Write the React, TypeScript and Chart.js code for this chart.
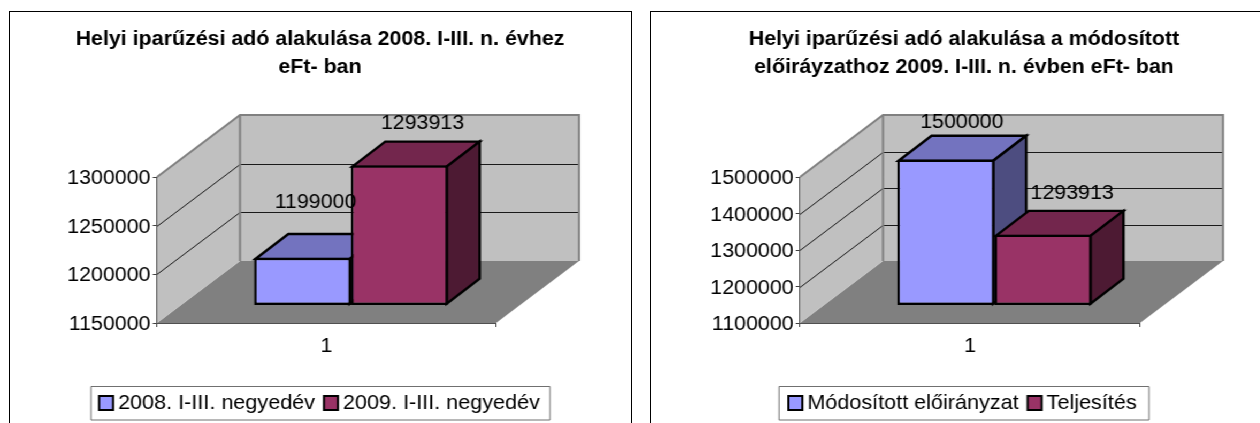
import React, { useEffect, useRef } from "react";
import { Chart, registerables } from "chart.js";

Chart.register(...registerables);

const categories = ["1"];
const leftSeriesNames = ["2008. I-III. negyedév", "2009. I-III. negyedév"];
const leftValues = [1199000, 1293913];
const leftTitle = ["Helyi iparűzési adó alakulása 2008. I-III. n. évhez", "eFt- ban"];
const rightSeriesNames = ["Módosított előirányzat", "Teljesítés"];
const rightValues = [1500000, 1293913];
const rightTitle = ["Helyi iparűzési adó alakulása a módosított", "előiráyzathoz 2009. I-III. n. évben eFt- ban"];

const FACE = ["#9999FF", "#993366"];
const TOP = ["#7373BF", "#73264D"];
const SIDE = ["#4D4D80", "#4D1A33"];

// The reference is a picture stretched sideways: draw narrower, then stretch the canvas.
const SX = 1.07;
const W = Math.round(630 / SX);
const H = 423;
const AXIS_FONT = 20;
const LEGEND_FONT = 20.2;
const TITLE_FONT = 20;
const BAR_LINE = 2.4;
const FAMILY = '"Liberation Sans", Arial, sans-serif';

const L = (v: number) => v / SX;

function makeChart(canvas: HTMLCanvasElement, p: any) {
  const plugin = {
    id: "pseudo3d",
    afterLayout(chart: any) {
      const cx = L(p.titleCx);
      chart.titleBlock.left = cx - W / 2;
      chart.titleBlock.right = cx + W / 2;
      const lx = L(p.legendCx);
      chart.legend.left = lx - W / 2;
      chart.legend.right = lx + W / 2;
      chart.legend.top = 405 - 16 - 12;
      chart.legend.adjustHitBoxes();
    },
    beforeDraw(chart: any) {
      const { ctx, chartArea: a } = chart;
      const dx = L(83);
      const dy = 62;
      ctx.save();
      // legend frame
      ctx.fillStyle = "#fff";
      ctx.strokeStyle = "#707070";
      ctx.lineWidth = 1;
      ctx.beginPath();
      ctx.rect(L(p.legendBox[0]), 386.5, L(p.legendBox[1] - p.legendBox[0]), 33.5);
      ctx.fill();
      ctx.stroke();
      // floor
      ctx.fillStyle = "#808080";
      ctx.beginPath();
      ctx.moveTo(a.left, a.bottom);
      ctx.lineTo(a.left + dx, a.bottom - dy);
      ctx.lineTo(a.right + dx, a.bottom - dy);
      ctx.lineTo(a.right, a.bottom);
      ctx.closePath();
      ctx.fill();
      // walls
      ctx.fillStyle = "#C0C0C0";
      ctx.beginPath();
      ctx.moveTo(a.left, a.top);
      ctx.lineTo(a.left + dx, a.top - dy);
      ctx.lineTo(a.right + dx, a.top - dy);
      ctx.lineTo(a.right + dx, a.bottom - dy);
      ctx.lineTo(a.left + dx, a.bottom - dy);
      ctx.lineTo(a.left, a.bottom);
      ctx.closePath();
      ctx.fill();
      // grid on the walls
      const y = chart.scales.y;
      ctx.strokeStyle = "#1a1a1a";
      ctx.lineWidth = 1;
      y.ticks.forEach((t: any) => {
        if (t.value === y.min || t.value === y.max) return;
        const py = Math.round(y.getPixelForValue(t.value)) + 0.5;
        ctx.beginPath();
        ctx.moveTo(a.left, py);
        ctx.lineTo(a.left + dx, py - dy);
        ctx.lineTo(a.right + dx, py - dy);
        ctx.stroke();
      });
      // wall edges
      ctx.strokeStyle = "#808080";
      ctx.lineWidth = 2;
      ctx.beginPath();
      ctx.moveTo(a.left, a.top);
      ctx.lineTo(a.left + dx, a.top - dy);
      ctx.lineTo(a.right + dx, a.top - dy);
      ctx.lineTo(a.right + dx, a.bottom - dy);
      ctx.moveTo(a.left + dx, a.top - dy);
      ctx.lineTo(a.left + dx, a.bottom - dy);
      ctx.stroke();
      ctx.restore();
    },
    beforeDatasetsDraw(chart: any) {
      const { ctx } = chart;
      const fx = L(24.5);
      const fy = 17.5;
      const bx = L(33);
      const by = 25;
      const inset = BAR_LINE / 2;
      ctx.save();
      ctx.translate(fx, -fy);
      ctx.strokeStyle = "#000";
      ctx.lineWidth = BAR_LINE;
      ctx.lineJoin = "miter";
      chart.data.datasets.forEach((_: any, i: number) => {
        const b = chart.getDatasetMeta(i).data[0];
        const x0 = b.x - b.width / 2 + inset;
        const x1 = b.x + b.width / 2 - inset;
        const t = b.y + inset;
        const base = b.base - inset;
        ctx.fillStyle = TOP[i];
        ctx.beginPath();
        ctx.moveTo(x0, t);
        ctx.lineTo(x0 + bx, t - by);
        ctx.lineTo(x1 + bx, t - by);
        ctx.lineTo(x1, t);
        ctx.closePath();
        ctx.fill();
        ctx.stroke();
        ctx.fillStyle = SIDE[i];
        ctx.beginPath();
        ctx.moveTo(x1, t);
        ctx.lineTo(x1 + bx, t - by);
        ctx.lineTo(x1 + bx, base - by);
        ctx.lineTo(x1, base);
        ctx.closePath();
        ctx.fill();
        ctx.stroke();
      });
    },
    afterDatasetsDraw(chart: any) {
      const { ctx } = chart;
      ctx.restore();
      ctx.save();
      ctx.fillStyle = "#000";
      ctx.font = `${AXIS_FONT}px ${FAMILY}`;
      ctx.textAlign = "center";
      ctx.textBaseline = "middle";
      chart.data.datasets.forEach((ds: any, i: number) => {
        const b = chart.getDatasetMeta(i).data[0];
        const [ox, oy] = p.labelOffsets[i];
        ctx.fillText(String(ds.data[0]), b.x + L(24.5 + ox), b.y - 18 + oy + 1.5);
      });
      ctx.restore();
    },
    afterDraw(chart: any) {
      // legend swatches sit closer to their text than Chart.js would put them
      const { ctx, legend } = chart;
      ctx.save();
      ctx.strokeStyle = "#000";
      ctx.lineWidth = 2;
      legend.legendHitBoxes.forEach((h: any, i: number) => {
        const textStart = h.left + LEGEND_FONT / 2;
        const size = L(14);
        const x = textStart - L(5) - size;
        ctx.fillStyle = FACE[i];
        ctx.beginPath();
        ctx.rect(x, 396, size, 14);
        ctx.fill();
        ctx.stroke();
      });
      ctx.restore();
    },
  };

  return new Chart(canvas, {
    type: "bar",
    data: {
      labels: categories,
      datasets: p.names.map((n: string, i: number) => ({
        label: n,
        data: [p.values[i]],
        base: p.min,
        backgroundColor: FACE[i],
        borderColor: "#000",
        borderWidth: BAR_LINE,
        borderSkipped: false,
        categoryPercentage: 0.572,
        barPercentage: 1,
      })),
    },
    options: {
      animation: false,
      responsive: false,
      maintainAspectRatio: false,
      layout: { padding: { left: 0, right: W - L(p.plotRight), top: 0, bottom: 0 } },
      scales: {
        x: {
          grid: { drawOnChartArea: false, drawTicks: true, tickLength: 4, color: "#404040" },
          border: { color: "#505050", width: 1 },
          ticks: {
            color: "#000",
            padding: 7,
            font: { family: FAMILY, size: AXIS_FONT },
            maxRotation: 0,
          },
          afterFit(s: any) {
            s.height = H - 323 - s.chart.legend.height;
          },
        },
        y: {
          min: p.min,
          max: p.max,
          grid: { drawOnChartArea: false, drawTicks: true, tickLength: 4, color: "#404040" },
          border: { color: "#505050", width: 1 },
          ticks: {
            stepSize: p.step,
            color: "#000",
            padding: 2,
            labelOffset: 1.5,
            font: { family: FAMILY, size: AXIS_FONT },
            callback: (v: any) => String(v),
          },
          afterFit(s: any) {
            s.width = L(p.plotLeft);
          },
        },
      },
      plugins: {
        tooltip: { enabled: false },
        title: {
          display: true,
          text: p.title,
          color: "#000",
          font: { family: FAMILY, size: TITLE_FONT, weight: "bold", lineHeight: "28px" },
          padding: { top: 25.5, bottom: 177 - 25.5 - 56 },
        },
        legend: {
          display: true,
          position: "bottom",
          labels: {
            color: "#000",
            boxWidth: 0,
            boxHeight: 13,
            padding: 16,
            font: { family: FAMILY, size: LEGEND_FONT, lineHeight: 1.2 },
          },
        },
      },
    },
    plugins: [plugin],
  } as any);
}

function Panel({ offset, cfg }: { offset: number; cfg: any }) {
  const ref = useRef<HTMLCanvasElement | null>(null);
  useEffect(() => {
    const c = makeChart(ref.current!, cfg);
    return () => c.destroy();
  }, []);
  return (
    <div style={{ position: "absolute", left: offset, top: 0, width: W, height: H, transform: `scaleX(${SX})`, transformOrigin: "0 0" }}>
      <canvas ref={ref} width={W} height={H} />
    </div>
  );
}

const leftCfg = {
  names: leftSeriesNames,
  values: leftValues,
  title: leftTitle,
  min: 1150000,
  max: 1300000,
  step: 50000,
  plotLeft: 157,
  plotRight: 496,
  titleCx: 320,
  legendCx: 323.6,
  legendBox: [91, 550],
  labelOffsets: [[13, -56], [23, -43]],
};
const rightCfg = {
  names: rightSeriesNames,
  values: rightValues,
  title: rightTitle,
  min: 1100000,
  max: 1500000,
  step: 100000,
  plotLeft: 170,
  plotRight: 510,
  titleCx: 334,
  legendCx: 336.6,
  legendBox: [149, 519],
  labelOffsets: [[16, -38], [29, -42]],
};

export default function App() {
  return (
    <div style={{ position: "absolute", left: 0, top: 0, width: 1260, height: 423, overflow: "hidden", background: "#fff", filter: "blur(0.4px)" }}>
      <div style={{ position: "absolute", left: 9, top: 11, width: 621, height: 500, border: "1px solid #000" }} />
      <div style={{ position: "absolute", left: 650, top: 11, width: 700, height: 500, border: "1px solid #000" }} />
      <Panel offset={0} cfg={leftCfg} />
      <Panel offset={630} cfg={rightCfg} />
    </div>
  );
}
